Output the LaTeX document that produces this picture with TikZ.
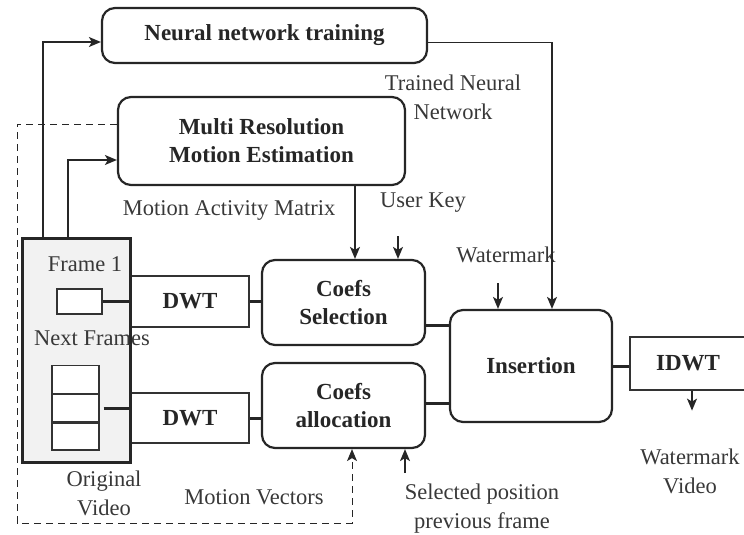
\documentclass[tikz,border=0pt]{standalone}
\usepackage{fontspec}
\setmainfont{Liberation Serif}
\usetikzlibrary{positioning,arrows.meta}

\tikzset{
  block/.style={draw=black!85,line width=2.2pt,rounded corners=13pt,fill=white,
    align=center,font=\fontsize{23}{28}\selectfont\bfseries,text=black!85},
  sqbox/.style={draw=black!80,line width=1.2pt,fill=white,align=center,
    font=\fontsize{23}{26}\selectfont\bfseries,text=black!85},
  lbl/.style={align=center,font=\fontsize{22.5}{29}\selectfont,text=black!78},
  link/.style={line width=3pt,black!85},
  flow/.style={-{Stealth[length=12pt,width=10pt,inset=3pt]},line width=1.4pt,black!85}
}

\begin{document}
\begin{tikzpicture}[x=1pt,y=-1pt]
  \useasboundingbox (0,0) rectangle (744,535);

  % blocks
  \node[block,minimum width=325pt,minimum height=55pt] (neural) at (264.5,35.5) {Neural network training};
  \node[block,minimum width=287pt,minimum height=88pt] (multi) at (261.5,141) {Multi Resolution\\Motion Estimation};
  \node[block,minimum width=163pt,minimum height=85pt] (sel) at (343.5,302.5) {Coefs\\Selection};
  \node[block,minimum width=163pt,minimum height=85pt] (alloc) at (343.5,405.5) {Coefs\\allocation};
  \node[block,minimum width=162pt,minimum height=112pt] (ins) at (531,366) {Insertion};

  \node[sqbox,minimum width=118pt,minimum height=51pt] (dwt1) at (190,301.5) {DWT};
  \node[sqbox,minimum width=118pt,minimum height=50pt] (dwt2) at (190,418) {DWT};
  \node[sqbox,minimum width=116pt,minimum height=53pt] (idwt) at (688,363.5) {IDWT};

  % original video
  \node[draw=black!85,line width=3pt,fill=black!5,minimum width=108pt,minimum height=224pt] (video) at (76.5,350) {};
  \node[lbl] (f1txt) at (85,264) {Frame 1};
  \node[draw=black!80,line width=1.2pt,fill=white,minimum width=45pt,minimum height=25pt] (f1) at (79.5,301.5) {};
  \node[lbl] (nftxt) at (92,338) {Next Frames};
  \node[draw=black!80,line width=1.2pt,fill=white,minimum width=47pt,minimum height=28pt] (stk1) at (75.5,379.5) {};
  \node[draw=black!80,line width=1.2pt,fill=white,minimum width=47pt,minimum height=27pt,below=0pt of stk1] (stk2) {};
  \node[draw=black!80,line width=1.2pt,fill=white,minimum width=47pt,minimum height=27pt,below=0pt of stk2] (stk3) {};

  % labels
  \node[lbl] (mam) at (229,210) {Motion Activity Matrix};
  \node[lbl] (ukey) at (423,203) {User Key};
  \node[lbl] (tnn) at (453,97) {Trained Neural\\Network};
  \node[lbl] (wmark) at (506,255) {Watermark};
  \node[lbl] (ovid) at (104,493) {Original\\Video};
  \node[lbl] (mvec) at (254,497) {Motion Vectors};
  \node[lbl] (spos) at (482,509) {Selected position\\previous frame};
  \node[lbl] (wvid) at (690,471) {Watermark\\Video};

  \coordinate (uk) at (398,236);
  \coordinate (wm) at (498,283);
  \coordinate (sp) at (405,473);
  \coordinate (dl) at (17,523);

  % connectors
  \draw[flow] ([xshift=22pt]video.north west) |- ([yshift=-6.5pt]neural.west);
  \draw[flow] ([xshift=47pt]video.north west) |- ([yshift=-19pt]multi.west);
  \draw[flow,line width=1pt,dash pattern=on 7pt off 5pt]
    ([yshift=17pt]multi.west) -| (dl) -| ([xshift=8.5pt]alloc.south);
  \draw[flow] (multi.south -| 355,0) -- ([xshift=11.5pt]sel.north);
  \draw[flow] (uk) -- (uk |- sel.north);
  \draw[flow] (wm) -- (wm |- ins.north);
  \draw[flow] ([yshift=-7pt]neural.east) -| ([xshift=21pt]ins.north);
  \draw[flow] (sp) -- (sp |- alloc.south);
  \draw[flow] ([xshift=4pt]idwt.south) -- ++(0,20);

  \draw[link] (f1.east) -- (f1.east -| dwt1.west);
  \draw[link] ([xshift=4pt]stk2.east) -- (stk2.east -| dwt2.west);
  \draw[link] (dwt1.east) -- (dwt1.east -| sel.west);
  \draw[link] (dwt2.east) -- (dwt2.east -| alloc.west);
  \draw[link] ([yshift=-23pt]sel.east) -- ([yshift=-23pt]sel.east -| ins.west);
  \draw[link] ([yshift=2pt]alloc.east) -- ([yshift=2pt]alloc.east -| ins.west);
  \draw[link] (ins.east) -- (ins.east -| idwt.west);
\end{tikzpicture}
\end{document}
